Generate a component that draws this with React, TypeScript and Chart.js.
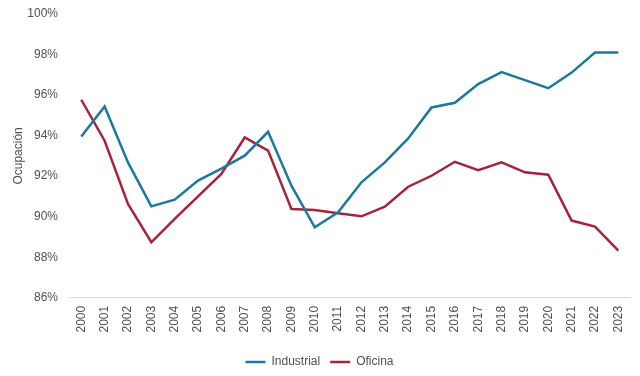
import React, { useEffect, useRef } from "react";
import { Chart, registerables } from "chart.js";

Chart.register(...registerables);

const years: string[] = [
  "2000", "2001", "2002", "2003", "2004", "2005", "2006", "2007", "2008", "2009", "2010", "2011",
  "2012", "2013", "2014", "2015", "2016", "2017", "2018", "2019", "2020", "2021", "2022", "2023",
];

const industrial: number[] = [
  93.96, 95.44, 92.68, 90.51, 90.84, 91.78, 92.37, 93.01, 94.19, 91.53, 89.48, 90.22,
  91.7, 92.68, 93.86, 95.39, 95.62, 96.54, 97.13, 96.74, 96.34, 97.11, 98.1, 98.1,
];

const oficina: number[] = [
  95.77, 93.75, 90.63, 88.74, 89.89, 91.0, 92.11, 93.91, 93.26, 90.38, 90.33, 90.17,
  90.02, 90.5, 91.48, 92.02, 92.71, 92.3, 92.68, 92.19, 92.07, 89.81, 89.51, 88.33,
];

const yMin = 86;
const yMax = 100;
const yStep = 2;

const tealColor = "#1B7A99";
const redColor = "#A8233A";
const textColor = "#505050";
const FONT = "'Liberation Sans', Arial, sans-serif";

export default function App() {
  const canvasRef = useRef<HTMLCanvasElement | null>(null);

  useEffect(() => {
    if (!canvasRef.current) return;
    const chart = new Chart(canvasRef.current, {
      type: "line",
      data: {
        labels: years,
        datasets: [
          {
            label: "Industrial",
            data: industrial,
            borderColor: tealColor,
            backgroundColor: tealColor,
            borderWidth: 2.5,
            pointRadius: 0,
            pointHoverRadius: 0,
            tension: 0,
            pointStyle: "line",
          },
          {
            label: "Oficina",
            data: oficina,
            borderColor: redColor,
            backgroundColor: redColor,
            borderWidth: 2.5,
            pointRadius: 0,
            pointHoverRadius: 0,
            tension: 0,
            pointStyle: "line",
          },
        ],
      },
      options: {
        animation: false,
        responsive: false,
        maintainAspectRatio: false,
        layout: { padding: { left: 9, right: 10, top: 14, bottom: -2 } },
        plugins: {
          tooltip: { enabled: false },
          legend: {
            position: "bottom",
            labels: {
              usePointStyle: true,
              pointStyle: "line",
              pointStyleWidth: 20,
              boxHeight: 12,
              color: textColor,
              padding: 10,
              font: { family: FONT, size: 12 },
            },
          },
        },
        scales: {
          x: {
            type: "category",
            offset: true,
            grid: { display: false, drawTicks: false },
            border: { display: true, color: "#D9D9D9", width: 1 },
            afterFit: (scale: any) => {
              scale.paddingLeft = 0;
              scale.paddingRight = 0;
              scale.height += 5.5;
            },
            ticks: {
              color: textColor,
              font: { family: FONT, size: 12 },
              minRotation: 90,
              maxRotation: 90,
              autoSkip: false,
              padding: 8,
            },
          },
          y: {
            min: yMin,
            max: yMax,
            grid: { display: false, drawTicks: false },
            border: { display: false },
            afterFit: (scale: any) => {
              scale.width = 60.6;
              scale.paddingTop = 0;
              scale.paddingBottom = 0;
            },
            title: {
              display: true,
              text: "Ocupación",
              color: textColor,
              font: { family: FONT, size: 12 },
              padding: 2,
            },
            ticks: {
              stepSize: yStep,
              color: textColor,
              font: { family: FONT, size: 12 },
              padding: 11.6,
              callback: (v: any) => `${v}%`,
            },
          },
        },
      },
    });
    return () => chart.destroy();
  }, []);

  return (
    <div style={{ position: "fixed", left: 0, top: 0, width: 640, height: 376, background: "#fff" }}>
      <canvas ref={canvasRef} width={640} height={376} style={{ width: 640, height: 376, display: "block" }} />
    </div>
  );
}
